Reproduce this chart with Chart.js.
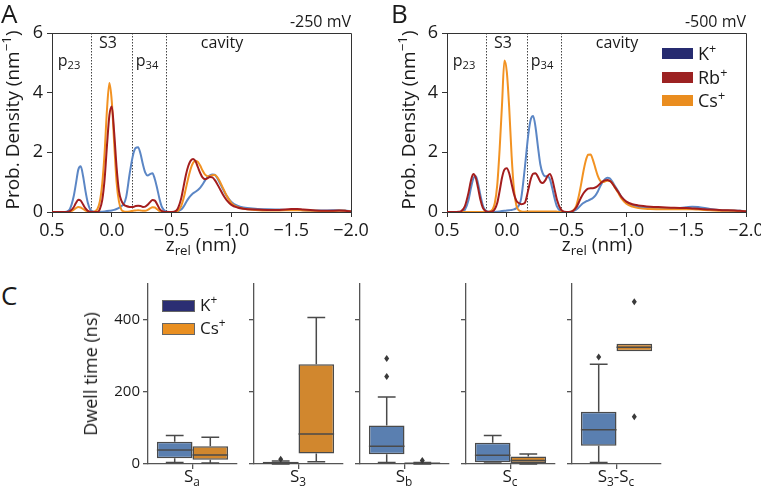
<!DOCTYPE html>
<html>
<head>
<meta charset="utf-8">
<script src="https://cdn.jsdelivr.net/npm/chart.js@4.4.0/dist/chart.umd.min.js"></script>
<style>
body { margin: 0; background: #fff; font-family: 'Open Sans', sans-serif; color: #1a1a1a; }
#fig { position: relative; width: 761px; height: 488px; overflow: hidden; }
canvas { position: absolute; }
.t { position: absolute; white-space: nowrap; line-height: 1; }
.ctr { transform: translateX(-50%); }
.rot { transform: translate(-50%, -50%) rotate(-90deg); }
sub { font-size: 70%; vertical-align: -0.3em; line-height: 0; }
sup { font-size: 70%; vertical-align: 0.55em; line-height: 0; }
.patch { position: absolute; }
</style>
</head>
<body>
<div id="fig">
  <canvas id="chartA" width="380" height="260" style="left:0;top:0"></canvas>
  <canvas id="chartB" width="380" height="260" style="left:395px;top:0"></canvas>
  <canvas id="box0" width="153" height="210" style="left:88px;top:270px"></canvas>
  <canvas id="box1" width="153" height="210" style="left:194px;top:270px"></canvas>
  <canvas id="box2" width="153" height="210" style="left:300px;top:270px"></canvas>
  <canvas id="box3" width="153" height="210" style="left:406px;top:270px"></canvas>
  <canvas id="box4" width="153" height="210" style="left:512px;top:270px"></canvas>

  <!-- panel A texts -->
  <div class="t" style="left:1px;top:0;font-size:26px">A</div>
  <div class="t" style="right:410px;top:13px;font-size:16px">-250 mV</div>
  <div class="t rot" style="left:12px;top:120px;font-size:19px">Prob. Density (nm<sup>−1</sup>)</div>
  <div class="t ctr" style="left:201px;top:235px;font-size:19px">z<sub>rel</sub> (nm)</div>
  <div class="t ctr" style="left:69px;top:52px;font-size:16px">p<sub>23</sub></div>
  <div class="t ctr" style="left:108px;top:34px;font-size:16px">S3</div>
  <div class="t ctr" style="left:147px;top:52px;font-size:16px">p<sub>34</sub></div>
  <div class="t ctr" style="left:222px;top:34px;font-size:16px">cavity</div>

  <!-- panel B texts -->
  <div class="t" style="left:391px;top:0;font-size:26px">B</div>
  <div class="t" style="right:15px;top:13px;font-size:16px">-500 mV</div>
  <div class="t rot" style="left:408px;top:120px;font-size:19px">Prob. Density (nm<sup>−1</sup>)</div>
  <div class="t ctr" style="left:597px;top:235px;font-size:19px">z<sub>rel</sub> (nm)</div>
  <div class="t ctr" style="left:464px;top:52px;font-size:16px">p<sub>23</sub></div>
  <div class="t ctr" style="left:503px;top:34px;font-size:16px">S3</div>
  <div class="t ctr" style="left:542px;top:52px;font-size:16px">p<sub>34</sub></div>
  <div class="t ctr" style="left:617px;top:34px;font-size:16px">cavity</div>
  <div class="patch" style="left:662px;top:48px;width:31px;height:11px;background:#262b70"></div>
  <div class="patch" style="left:662px;top:72px;width:31px;height:11px;background:#9c2222"></div>
  <div class="patch" style="left:662px;top:95px;width:31px;height:11px;background:#ea8d1f"></div>
  <div class="t" style="left:698px;top:44px;font-size:18px">K<sup>+</sup></div>
  <div class="t" style="left:698px;top:68px;font-size:18px">Rb<sup>+</sup></div>
  <div class="t" style="left:698px;top:91px;font-size:18px">Cs<sup>+</sup></div>

  <!-- panel C texts -->
  <div class="t" style="left:1px;top:282px;font-size:26px">C</div>
  <div class="t rot" style="left:90px;top:374px;font-size:18px">Dwell time (ns)</div>
  <div class="patch" style="left:162px;top:300px;width:31px;height:10px;background:#2b2e73;border:1px solid #666"></div>
  <div class="patch" style="left:162px;top:323px;width:31px;height:10px;background:#e98f21;border:1px solid #666"></div>
  <div class="t" style="left:200px;top:296px;font-size:17px">K<sup>+</sup></div>
  <div class="t" style="left:200px;top:319px;font-size:17px">Cs<sup>+</sup></div>
  <div class="t ctr" style="left:192px;top:467px;font-size:17px">S<sub>a</sub></div>
  <div class="t ctr" style="left:298px;top:467px;font-size:17px">S<sub>3</sub></div>
  <div class="t ctr" style="left:404px;top:467px;font-size:17px">S<sub>b</sub></div>
  <div class="t ctr" style="left:510px;top:467px;font-size:17px">S<sub>c</sub></div>
  <div class="t ctr" style="left:616px;top:467px;font-size:17px">S<sub>3</sub>-S<sub>c</sub></div>
</div>

<script>
// z positions (nm) shared by all density curves
const zPos = [
  0.5, 0.45, 0.4, 0.38, 0.35, 0.32, 0.3, 0.28, 0.26, 0.24,
  0.22, 0.2, 0.18, 0.15, 0.12, 0.1, 0.08, 0.06, 0.04, 0.02,
  0.0, -0.02, -0.04, -0.06, -0.08, -0.1, -0.12, -0.15, -0.18, -0.2,
  -0.22, -0.24, -0.26, -0.28, -0.3, -0.32, -0.34, -0.36, -0.38, -0.4,
  -0.42, -0.45, -0.48, -0.52, -0.55, -0.58, -0.6, -0.62, -0.64, -0.66,
  -0.68, -0.7, -0.72, -0.74, -0.76, -0.78, -0.8, -0.82, -0.84, -0.86,
  -0.88, -0.9, -0.93, -0.96, -1.0, -1.05, -1.1, -1.2, -1.3, -1.4,
  -1.5, -1.55, -1.6, -1.7, -1.8, -1.9, -1.95, -2.0
];

// -250 mV
const kA = [
  0, 0, 0, 0.01, 0.1, 0.5, 0.95, 1.42, 1.53, 1.2,
  0.7, 0.3, 0.08, 0.01, 0, 0, 0.01, 0.02, 0.03, 0.04,
  0.05, 0.07, 0.1, 0.14, 0.2, 0.27, 0.5, 1.3, 1.95, 2.15,
  2.17, 1.95, 1.6, 1.32, 1.22, 1.27, 1.3, 1.1, 0.78, 0.42,
  0.16, 0.02, 0, 0, 0.02, 0.08, 0.18, 0.32, 0.45, 0.55,
  0.63, 0.68, 0.74, 0.82, 0.93, 1.06, 1.17, 1.23, 1.26, 1.25,
  1.15, 1.0, 0.76, 0.54, 0.34, 0.21, 0.15, 0.11, 0.09, 0.08,
  0.07, 0.07, 0.06, 0.05, 0.05, 0.06, 0.05, 0.03
];
const rbA = [
  0, 0, 0, 0, 0.03, 0.15, 0.3, 0.41, 0.38, 0.25,
  0.12, 0.04, 0.01, 0, 0, 0.1, 0.4, 1.1, 2.25, 3.25,
  3.54, 2.65, 1.5, 0.7, 0.38, 0.25, 0.2, 0.17, 0.17, 0.2,
  0.21, 0.2, 0.17, 0.18, 0.24, 0.33, 0.4, 0.38, 0.25, 0.1,
  0.03, 0, 0, 0.01, 0.1, 0.45, 0.85, 1.25, 1.55, 1.72,
  1.78, 1.7, 1.5, 1.3, 1.15, 1.1, 1.13, 1.17, 1.16, 1.08,
  0.95, 0.8, 0.58, 0.4, 0.24, 0.15, 0.11, 0.08, 0.07, 0.07,
  0.1, 0.1, 0.08, 0.05, 0.04, 0.05, 0.04, 0.02
];
const csA = [
  0, 0, 0, 0, 0.01, 0.07, 0.13, 0.17, 0.15, 0.1,
  0.05, 0.02, 0, 0.01, 0.1, 0.35, 0.95, 2.0, 3.45, 4.32,
  3.7, 2.3, 1.0, 0.35, 0.08, 0.02, 0.01, 0.02, 0.04, 0.05,
  0.06, 0.05, 0.04, 0.04, 0.07, 0.12, 0.16, 0.15, 0.09, 0.03,
  0.01, 0, 0, 0, 0.03, 0.2, 0.45, 0.8, 1.15, 1.45,
  1.65, 1.72, 1.68, 1.55, 1.38, 1.25, 1.2, 1.2, 1.23, 1.24,
  1.18, 1.05, 0.8, 0.55, 0.3, 0.17, 0.11, 0.07, 0.05, 0.05,
  0.06, 0.06, 0.05, 0.04, 0.03, 0.04, 0.04, 0.02
];

// -500 mV
const kB = [
  0, 0, 0, 0.01, 0.08, 0.4, 0.8, 1.12, 1.21, 0.95,
  0.55, 0.22, 0.06, 0.01, 0, 0, 0.01, 0.02, 0.03, 0.04,
  0.05, 0.06, 0.07, 0.09, 0.13, 0.22, 0.45, 1.45, 2.6, 3.1,
  3.22, 2.85, 2.2, 1.6, 1.3, 1.2, 1.2, 1.1, 0.8, 0.45,
  0.18, 0.03, 0, 0, 0.02, 0.08, 0.15, 0.23, 0.3, 0.35,
  0.38, 0.42, 0.47, 0.55, 0.68, 0.85, 1.0, 1.1, 1.15, 1.13,
  1.03, 0.9, 0.7, 0.5, 0.32, 0.22, 0.17, 0.13, 0.11, 0.12,
  0.16, 0.18, 0.17, 0.1, 0.06, 0.05, 0.04, 0.03
];
const rbB = [
  0, 0, 0.01, 0.03, 0.2, 0.65, 1.05, 1.27, 1.15, 0.8,
  0.4, 0.14, 0.04, 0, 0.02, 0.1, 0.3, 0.7, 1.15, 1.42,
  1.47, 1.3, 0.95, 0.6, 0.38, 0.3, 0.26, 0.3, 0.75, 1.1,
  1.28, 1.3, 1.18, 1.02, 0.97, 1.05, 1.2, 1.27, 1.1, 0.75,
  0.4, 0.1, 0.01, 0, 0.03, 0.15, 0.3, 0.48, 0.62, 0.72,
  0.78, 0.8, 0.8, 0.82, 0.87, 0.95, 1.02, 1.06, 1.07, 1.04,
  0.97, 0.85, 0.68, 0.5, 0.35, 0.26, 0.22, 0.18, 0.16, 0.14,
  0.13, 0.12, 0.11, 0.08, 0.06, 0.05, 0.04, 0.02
];
const csB = [
  0, 0, 0, 0, 0, 0, 0, 0, 0, 0,
  0, 0, 0, 0.01, 0.08, 0.3, 0.9, 2.1, 3.6, 5.08,
  4.7, 3.5, 1.9, 0.75, 0.22, 0.06, 0.02, 0.01, 0.02, 0.02,
  0.02, 0.02, 0.02, 0.02, 0.02, 0.02, 0.02, 0.02, 0.02, 0.02,
  0.01, 0, 0, 0, 0.03, 0.2, 0.5, 0.9, 1.35, 1.72,
  1.92, 1.93, 1.75, 1.48, 1.22, 1.05, 1.0, 1.02, 1.05, 1.05,
  0.98, 0.85, 0.65, 0.45, 0.28, 0.18, 0.13, 0.1, 0.09, 0.09,
  0.09, 0.09, 0.08, 0.06, 0.04, 0.04, 0.03, 0.02
];

// region borders p23 | S3 | p34 | cavity
const regionBounds = [0.175, -0.17, -0.455];

// dwell times (ns), sites Sa, S3, Sb, Sc, S3-Sc
const kLo  = [4, 0, 4, 3, 4];
const kQ1  = [16, 1, 27, 5, 51];
const kMed = [39, 3, 49, 24, 95];
const kQ3  = [62, 6, 107, 59, 145];
const kHi  = [79, 8, 186, 79, 277];
const kOut = [[], [13], [243, 293], [], [297]];
const csLo  = [3, 6, 0, 0, 313];
const csQ1  = [12, 29, 0.5, 3, 313];
const csMed = [25, 83, 2, 10, 324];
const csQ3  = [49, 277, 3, 21, 334];
const csHi  = [74, 407, 4, 28, 334];
const csOut = [[], [], [10], [], [131, 451]];

const lineK = '#5b86c5', lineRb = '#a31d1d', lineCs = '#f29222';
const boxK = '#5a7fb0', boxCs = '#d1872e', boxEdge = '#4a4a4a';
const axisCol = '#333';

function pts(vals) {
  return zPos.map((z, i) => ({x: z, y: vals[i]}));
}

function fmtZ(v) {
  if (Math.abs(v) < 1e-9) return '0.0';
  return v.toFixed(1).replace('-', '−');
}

const regionPlugin = {
  id: 'regions',
  beforeDatasetsDraw(chart) {
    const {ctx, chartArea, scales} = chart;
    ctx.save();
    ctx.strokeStyle = '#444';
    ctx.lineWidth = 1;
    ctx.setLineDash([1.5, 1.5]);
    regionBounds.forEach(b => {
      const px = Math.round(scales.x.getPixelForValue(b)) + 0.5;
      ctx.beginPath();
      ctx.moveTo(px, chartArea.top);
      ctx.lineTo(px, chartArea.bottom);
      ctx.stroke();
    });
    ctx.restore();
  },
  afterDraw(chart) {
    const {ctx, chartArea} = chart;
    ctx.save();
    ctx.strokeStyle = axisCol;
    ctx.lineWidth = 1;
    ctx.beginPath();
    ctx.moveTo(chartArea.left, chartArea.top + 0.5);
    ctx.lineTo(chartArea.right + 0.5, chartArea.top + 0.5);
    ctx.lineTo(chartArea.right + 0.5, chartArea.bottom);
    ctx.stroke();
    ctx.restore();
  }
};

function densityChart(id, k, rb, cs) {
  return new Chart(document.getElementById(id), {
    type: 'line',
    data: {
      datasets: [
        {label: 'K+', data: pts(k), borderColor: lineK, order: 2},
        {label: 'Rb+', data: pts(rb), borderColor: lineRb, order: 0},
        {label: 'Cs+', data: pts(cs), borderColor: lineCs, order: 1}
      ]
    },
    options: {
      responsive: false,
      animation: false,
      layout: {padding: {top: 33, right: 29, left: 0, bottom: 0}},
      datasets: {line: {borderWidth: 2, pointRadius: 0, fill: false, cubicInterpolationMode: 'monotone'}},
      plugins: {legend: {display: false}, tooltip: {enabled: false}},
      scales: {
        x: {
          type: 'linear', reverse: true, min: -2, max: 0.5,
          afterFit: s => { s.height = 48; },
          ticks: {stepSize: 0.5, callback: fmtZ, color: '#1a1a1a', padding: 3, maxRotation: 0,
                  font: {family: 'Open Sans', size: 18}},
          grid: {drawOnChartArea: false, tickLength: 5, color: axisCol},
          border: {color: axisCol}
        },
        y: {
          min: 0, max: 6,
          afterFit: s => { s.width = 52; },
          ticks: {stepSize: 2, color: '#1a1a1a', padding: 4, font: {family: 'Open Sans', size: 18}},
          grid: {drawOnChartArea: false, tickLength: 5, color: axisCol},
          border: {color: axisCol}
        }
      }
    },
    plugins: [regionPlugin]
  });
}

densityChart('chartA', kA, rbA, csA);
densityChart('chartB', kB, rbB, csB);

function whiskerPlugin(i) {
  const groups = [
    [kLo[i], kMed[i], kHi[i], kOut[i], kQ1[i], kQ3[i]],
    [csLo[i], csMed[i], csHi[i], csOut[i], csQ1[i], csQ3[i]]
  ];
  return {
    id: 'whiskers' + i,
    afterDatasetsDraw(chart) {
      const {ctx, scales} = chart;
      const py = v => scales.y.getPixelForValue(v);
      ctx.save();
      ctx.strokeStyle = boxEdge;
      ctx.fillStyle = '#3a3a3a';
      ctx.lineWidth = 1.5;
      groups.forEach((g, d) => {
        const bar = chart.getDatasetMeta(d).data[0];
        const x = bar.x, w = bar.width;
        const [lo, med, hi, outs, q1, q3] = g;
        ctx.beginPath();
        if (hi > q3) {
          ctx.moveTo(x, py(q3)); ctx.lineTo(x, py(hi));
          ctx.moveTo(x - w / 4, py(hi)); ctx.lineTo(x + w / 4, py(hi));
        }
        if (lo < q1) {
          ctx.moveTo(x, py(q1)); ctx.lineTo(x, py(lo));
          ctx.moveTo(x - w / 4, py(lo)); ctx.lineTo(x + w / 4, py(lo));
        }
        ctx.moveTo(x - w / 2, py(med)); ctx.lineTo(x + w / 2, py(med));
        ctx.stroke();
        outs.forEach(o => {
          const cy = py(o);
          ctx.beginPath();
          ctx.moveTo(x, cy - 3.5); ctx.lineTo(x + 2.5, cy);
          ctx.lineTo(x, cy + 3.5); ctx.lineTo(x - 2.5, cy);
          ctx.closePath();
          ctx.fill();
        });
      });
      ctx.restore();
    }
  };
}

function boxChart(i) {
  return new Chart(document.getElementById('box' + i), {
    type: 'bar',
    data: {
      labels: [''],
      datasets: [
        {label: 'K+', data: [[kQ1[i], kQ3[i]]], backgroundColor: boxK},
        {label: 'Cs+', data: [[csQ1[i], csQ3[i]]], backgroundColor: boxCs}
      ]
    },
    options: {
      responsive: false,
      animation: false,
      layout: {padding: {top: 14, right: 4, left: 0, bottom: 0}},
      datasets: {bar: {categoryPercentage: 0.8, barPercentage: 1, borderColor: boxEdge,
                       borderWidth: 1.5, borderSkipped: false}},
      plugins: {legend: {display: false}, tooltip: {enabled: false}},
      scales: {
        x: {
          afterFit: s => { s.height = 16; },
          ticks: {display: true, font: {family: 'Open Sans', size: 15}},
          grid: {offset: false, drawOnChartArea: false, tickLength: 5, color: '#555', lineWidth: 1.3},
          border: {color: '#555', width: 1.3}
        },
        y: {
          min: 0, max: 500,
          afterFit: s => { s.width = 60; },
          ticks: {stepSize: 200, includeBounds: false, padding: 3, color: '#1a1a1a',
                  callback: v => (i === 0 ? String(v) : ''),
                  font: {family: 'Open Sans', size: 15}},
          grid: {drawOnChartArea: false, tickLength: 5, color: '#555', lineWidth: 1.3},
          border: {color: '#555', width: 1.3}
        }
      }
    },
    plugins: [whiskerPlugin(i)]
  });
}

for (let i = 0; i < 5; i++) boxChart(i);
</script>
</body>
</html>
